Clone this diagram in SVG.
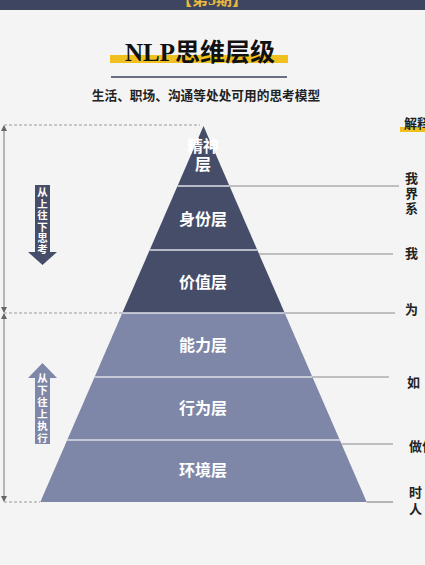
<svg xmlns="http://www.w3.org/2000/svg" width="425" height="565" viewBox="0 0 425 565">
<style>
.cjk{font-family:"Liberation Serif","Noto Sans CJK SC",serif;font-weight:bold}
.lay{font-size:16px;fill:#ffffff;text-anchor:middle}
.dark{fill:#464d69}
.light{fill:#7e87a7}
.sep{stroke:#dfe1e8;stroke-width:1.5}
.lead{stroke:#8a8a8a;stroke-width:1.2;fill:none}
.dash{stroke:#9a9a9a;stroke-width:1;stroke-dasharray:3 2;fill:none}
.dim{stroke:#777;stroke-width:1;fill:none}
.side{font-size:13px;fill:#222}
.arrtxt{font-size:10.5px;fill:#ffffff;text-anchor:middle}
</style>
<defs>
<marker id="ah" viewBox="0 0 6 6" refX="5" refY="3" markerWidth="6" markerHeight="6" orient="auto-start-reverse">
<path d="M0,0 L6,3 L0,6 z" fill="#666"/>
</marker>
</defs>
<rect width="425" height="565" fill="#f4f4f4"/>
<g id="banner">
<rect x="0" y="0" width="425" height="10" fill="#3e4560"/>
<text x="212" y="5" class="cjk" font-size="16" fill="#e8b93a" text-anchor="middle">【第5期】</text>
</g>
<g id="title">
<rect x="110" y="55" width="178" height="8" fill="#f0c020"/>
<text x="200" y="61" class="cjk" font-size="25" fill="#111" text-anchor="middle">NLP思维层级</text>
<line x1="111" y1="77" x2="287" y2="77" stroke="#3e4560" stroke-width="1.6"/>
<text x="206" y="100" class="cjk" font-size="12.7" fill="#222" text-anchor="middle">生活、职场、沟通等处处可用的思考模型</text>
</g>
<g id="layer-spirit">
<polygon class="dark" points="203.5,126 229.5,186 177.5,186"/>
<text class="cjk lay" x="203" y="152" font-size="14">精神</text>
<text class="cjk lay" x="203" y="170" font-size="14">层</text>
</g>
<g id="layer-identity">
<polygon class="dark" points="177.5,186 229.5,186 257.3,250 149.7,250"/>
<text class="cjk lay" x="203" y="225">身份层</text>
</g>
<g id="layer-value">
<polygon class="dark" points="149.7,250 257.3,250 284.7,313 122.3,313"/>
<text class="cjk lay" x="203" y="288">价值层</text>
</g>
<g id="layer-ability">
<polygon class="light" points="122.3,313 284.7,313 312.4,377 94.6,377"/>
<text class="cjk lay" x="203" y="351">能力层</text>
</g>
<g id="layer-behavior">
<polygon class="light" points="94.6,377 312.4,377 339.8,440 67.2,440"/>
<text class="cjk lay" x="203" y="414">行为层</text>
</g>
<g id="layer-environment">
<polygon class="light" points="67.2,440 339.8,440 366.7,502 40.3,502"/>
<text class="cjk lay" x="203" y="476">环境层</text>
</g>
<g id="connectors">
<line class="sep" x1="177.5" y1="186" x2="229.5" y2="186"/>
<line class="sep" x1="149.7" y1="250" x2="257.3" y2="250"/>
<line class="sep" x1="122.3" y1="313" x2="284.7" y2="313"/>
<line class="sep" x1="94.6" y1="377" x2="312.4" y2="377"/>
<line class="sep" x1="67.2" y1="440" x2="339.8" y2="440"/>
<line class="lead" x1="229.5" y1="186" x2="399" y2="186"/>
<line class="lead" x1="259" y1="254" x2="393" y2="254"/>
<line class="lead" x1="284.7" y1="313" x2="395" y2="313"/>
<line class="lead" x1="312.4" y1="377" x2="389" y2="377"/>
<line class="lead" x1="341.5" y1="444" x2="393" y2="444"/>
<line class="lead" x1="366.7" y1="502" x2="393" y2="502"/>
<line class="dash" x1="4" y1="125" x2="200" y2="125"/>
<line class="dash" x1="4" y1="313" x2="122" y2="313"/>
<line class="dash" x1="4" y1="502" x2="40" y2="502"/>
<line class="dim" x1="4" y1="126" x2="4" y2="312" marker-start="url(#ah)" marker-end="url(#ah)"/>
<line class="dim" x1="4" y1="314" x2="4" y2="501" marker-start="url(#ah)" marker-end="url(#ah)"/>
</g>
<g id="arrow-down">
<path d="M35,185 H50 V252 H57 L42.5,265 L28,252 H35 Z" fill="#464d69"/>
<text class="cjk arrtxt"><tspan x="42.5" y="196">从</tspan><tspan x="42.5" y="207.5">上</tspan><tspan x="42.5" y="219">往</tspan><tspan x="42.5" y="230.5">下</tspan><tspan x="42.5" y="242">思</tspan><tspan x="42.5" y="253">考</tspan></text>
</g>
<g id="arrow-up">
<path d="M35,444 H50 V378 H57 L42.5,363 L28,378 H35 Z" fill="#7e87a7"/>
<text class="cjk arrtxt"><tspan x="42.5" y="382">从</tspan><tspan x="42.5" y="394">下</tspan><tspan x="42.5" y="406">往</tspan><tspan x="42.5" y="418">上</tspan><tspan x="42.5" y="430">执</tspan><tspan x="42.5" y="442">行</tspan></text>
</g>
<g id="explanations">
<rect x="400" y="127" width="25" height="5" fill="#f0c020"/>
<text class="cjk side" x="404" y="128">解释</text>
<text class="cjk side" x="405" y="183">我</text>
<text class="cjk side" x="405" y="198">界</text>
<text class="cjk side" x="405" y="213">系</text>
<text class="cjk side" x="405" y="258">我</text>
<text class="cjk side" x="405" y="314">为</text>
<text class="cjk side" x="407" y="387">如</text>
<text class="cjk side" x="409" y="451">做什</text>
<text class="cjk side" x="409" y="497">时</text>
<text class="cjk side" x="409" y="514">人</text>
</g>
</svg>
